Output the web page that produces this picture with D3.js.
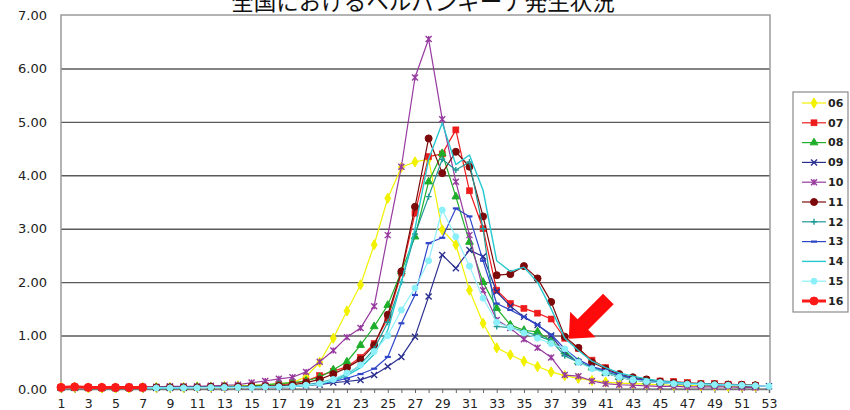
<!DOCTYPE html>
<html><head><meta charset="utf-8">
<script src="https://cdn.jsdelivr.net/npm/d3@7"></script>
<style>
html,body{margin:0;padding:0;background:#fff;overflow:hidden}
svg{display:block}
</style>
</head><body>
<svg id="chart" width="850" height="410"></svg>
<script>
const title = "全国におけるヘルパンギーナ発生状況";
const weeks = [1,2,3,4,5,6,7,8,9,10,11,12,13,14,15,16,17,18,19,20,21,22,23,24,25,26,27,28,29,30,31,32,33,34,35,36,37,38,39,40,41,42,43,44,45,46,47,48,49,50,51,52,53];
const xTickLabels = [1,3,5,7,9,11,13,15,17,19,21,23,25,27,29,31,33,35,37,39,41,43,45,47,49,51,53];
const yTicks = [0,1,2,3,4,5,6,7];
const seriesNames = ["06","07","08","09","10","11","12","13","14","15","16"];

const s06 = [0.03,0.03,0.02,0.02,0.02,0.02,0.03,0.03,0.03,0.03,0.04,0.04,0.05,0.06,0.07,0.08,0.10,0.12,
  0.23,0.50,0.95,1.46,1.95,2.70,3.57,4.15,4.25,4.30,
  2.98,2.70,1.85,1.23,0.77,0.64,0.52,0.42,0.32,0.25,0.20,0.16,
  0.13,0.11,0.10,0.09,0.08,0.07,0.07,0.06,0.06,0.05,0.05,0.05,null];
const s07 = [0.03,0.03,0.03,0.02,0.02,0.02,0.02,0.03,0.03,0.03,0.03,0.04,0.04,0.05,0.05,0.06,0.08,0.10,
  0.15,0.25,0.33,0.42,0.59,0.85,1.32,2.17,3.29,4.35,
  4.40,4.85,3.71,3.00,1.85,1.60,1.51,1.42,1.31,0.95,0.76,0.54,
  0.40,0.26,0.19,0.17,0.15,0.14,0.12,0.10,0.10,0.09,0.08,0.07,null];
const s08 = [0.02,0.02,0.02,0.02,0.02,0.02,0.03,0.03,0.03,0.03,0.04,0.04,0.05,0.05,0.06,0.08,0.10,0.12,
  0.15,0.22,0.36,0.51,0.82,1.17,1.57,2.20,2.85,3.88,
  4.41,3.60,2.75,2.00,1.51,1.20,1.10,1.07,0.90,0.70,0.51,0.40,
  0.30,0.22,0.17,0.14,0.12,0.10,0.09,0.08,0.08,0.07,0.06,0.06,null];
const s09 = [0.02,0.02,0.02,0.02,0.02,0.02,0.02,0.02,0.02,0.02,0.03,0.03,0.03,0.04,0.04,0.05,0.05,0.06,
  0.07,0.08,0.12,0.14,0.17,0.26,0.42,0.60,0.98,1.73,
  2.51,2.26,2.60,2.48,1.82,1.55,1.35,1.20,1.00,0.67,0.50,0.40,
  0.30,0.22,0.17,0.14,0.12,0.10,0.09,0.08,0.07,0.07,0.06,0.06,0.05];
const s10 = [0.03,0.03,0.03,0.03,0.03,0.04,0.04,0.04,0.05,0.05,0.05,0.06,0.07,0.08,0.12,0.15,0.19,0.22,
  0.32,0.51,0.72,0.97,1.14,1.55,2.88,4.16,5.83,6.55,
  5.05,3.88,2.88,1.85,1.29,1.14,0.93,0.77,0.59,0.26,0.24,0.15,
  0.10,0.08,0.07,0.06,0.05,0.05,0.04,0.04,0.04,0.04,0.03,0.03,null];
const s11 = [0.03,0.03,0.03,0.03,0.02,0.02,0.03,0.03,0.03,0.03,0.03,0.04,0.04,0.04,0.05,0.05,0.06,0.08,
  0.12,0.18,0.28,0.40,0.55,0.82,1.39,2.20,3.41,4.69,
  4.04,4.44,4.16,3.23,2.13,2.15,2.30,2.07,1.63,0.98,0.77,0.50,
  0.38,0.28,0.22,0.18,0.14,0.12,0.10,0.09,0.09,0.08,0.08,0.07,null];
const s12 = [0.02,0.02,0.02,0.02,0.02,0.02,0.02,0.03,0.03,0.03,0.03,0.03,0.04,0.04,0.04,0.05,0.05,0.06,
  0.08,0.12,0.18,0.28,0.45,0.75,1.25,2.00,2.90,3.60,
  4.30,4.10,4.25,3.00,1.17,1.15,1.08,1.00,0.90,0.62,0.50,0.40,
  0.32,0.25,0.20,0.16,0.13,0.11,0.10,0.09,0.08,0.07,0.07,0.06,null];
const s13 = [0.02,0.02,0.02,0.02,0.02,0.02,0.02,0.02,0.02,0.03,0.03,0.03,0.03,0.03,0.04,0.04,0.04,0.05,
  0.07,0.10,0.14,0.20,0.28,0.38,0.60,1.23,1.76,2.73,
  2.83,3.38,3.23,2.40,1.60,1.48,1.35,1.20,1.02,0.75,0.55,0.42,
  0.35,0.27,0.20,0.16,0.13,0.11,0.10,0.09,0.08,0.07,0.07,0.06,null];
const s14 = [0.02,0.02,0.02,0.02,0.02,0.02,0.02,0.02,0.02,0.03,0.03,0.03,0.03,0.03,0.03,0.04,0.04,0.05,
  0.06,0.10,0.15,0.25,0.40,0.65,1.10,2.00,3.00,4.30,
  4.98,4.20,4.38,3.72,2.40,2.20,2.28,2.00,1.50,0.95,0.72,0.52,
  0.40,0.30,0.24,0.19,0.15,0.13,0.11,0.10,0.09,0.08,0.07,0.07,null];
const s15 = [0.02,0.02,0.02,0.02,0.02,0.02,0.02,0.02,0.02,0.02,0.02,0.03,0.03,0.03,0.03,0.04,0.04,0.05,
  0.07,0.10,0.18,0.30,0.45,0.70,1.00,1.48,1.89,2.40,
  3.35,2.85,2.30,1.70,1.25,1.15,1.05,0.95,0.85,0.75,0.50,0.38,
  0.30,0.22,0.17,0.14,0.12,0.10,0.09,0.08,0.08,0.07,0.07,0.06,0.05];
const s16 = [0.03,0.04,0.03,0.03,0.03,0.03,0.03];

const seriesValues = [s06,s07,s08,s09,s10,s11,s12,s13,s14,s15,s16];

// styles
const colors = ["#f2f200","#ee1c1c","#1fae2a","#2b2f8f","#963a9e","#7d0a0a","#1f9a96","#3046c8","#28c8d0","#8cf0fa","#ff1a1a"];
const markers = ["diamond","square","triangle","x","star","circle","plus","dash","none","circle","circle"];
const widths = [1.2,1.2,1.2,1.2,1.2,1.2,1.2,1.2,1.4,1.2,3];

const svg = d3.select("#chart");
const W = 850, H = 410;
const plot = {left:61, right:770, top:15, bottom:389};

const x = d3.scaleLinear().domain([1,53]).range([plot.left, 769]);
const y = d3.scaleLinear().domain([0,7]).range([plot.bottom, plot.top]);

// title (partially clipped at top)
svg.append("text")
  .attr("x", 423).attr("y", 10)
  .attr("text-anchor","middle")
  .attr("font-family","'Noto Sans CJK JP', sans-serif")
  .attr("font-size", 22.5)
  .attr("fill","#111")
  .text(title);

// gridlines
const grid = svg.append("g").attr("transform",`translate(${plot.left},0)`)
  .call(d3.axisLeft(y).tickValues(yTicks.filter(v=>v>0 && v<7)).tickSize(-(plot.right-plot.left)).tickFormat(""));
grid.select(".domain").remove();
grid.selectAll("line").attr("stroke","#5a5a5a").attr("stroke-width",1.4);

// frame
svg.append("rect")
  .attr("x",plot.left).attr("y",plot.top)
  .attr("width",plot.right-plot.left).attr("height",plot.bottom-plot.top)
  .attr("fill","none").attr("stroke","#9a9a9a").attr("stroke-width",1.5);

// y axis labels
const ya = svg.append("g").attr("transform",`translate(${plot.left},0)`)
  .call(d3.axisLeft(y).tickValues(yTicks).tickSize(0).tickPadding(14).tickFormat(d3.format(".2f")));
ya.select(".domain").remove();
ya.selectAll("text").attr("font-family","'DejaVu Sans', sans-serif").attr("font-size",13).attr("fill","#222");

// x axis
const xa = svg.append("g").attr("transform",`translate(0,${plot.bottom})`)
  .call(d3.axisBottom(x).tickValues(weeks).tickSize(4).tickPadding(6)
    .tickFormat(d => xTickLabels.includes(d) ? String(d) : ""));
xa.select(".domain").attr("stroke","#777").attr("stroke-width",1.5);
xa.selectAll("line").attr("stroke","#666");
xa.selectAll("text").attr("font-family","'DejaVu Sans', sans-serif").attr("font-size",12.5).attr("fill","#222");

// marker drawing
function drawMarker(g, type, color, size) {
  const s = size;
  switch(type) {
    case "diamond":
      g.append("path").attr("d", d3.symbol(d3.symbolDiamond, 30)()).attr("fill",color).attr("stroke",color); break;
    case "square":
      g.append("rect").attr("x",-s/2).attr("y",-s/2).attr("width",s).attr("height",s).attr("fill",color).attr("stroke",color).attr("stroke-width",0.6); break;
    case "triangle":
      g.append("path").attr("d", d3.symbol(d3.symbolTriangle, 26)()).attr("fill",color).attr("stroke",color); break;
    case "x":
      g.append("path").attr("d",`M${-s/2},${-s/2}L${s/2},${s/2}M${-s/2},${s/2}L${s/2},${-s/2}`).attr("stroke",color).attr("stroke-width",1.4).attr("fill","none"); break;
    case "star":
      g.append("path").attr("d",`M${-s/2},${-s/2}L${s/2},${s/2}M${-s/2},${s/2}L${s/2},${-s/2}M0,${-s/2}L0,${s/2}`).attr("stroke",color).attr("stroke-width",1.4).attr("fill","none"); break;
    case "circle":
      g.append("circle").attr("r",s/2).attr("fill",color).attr("stroke",color); break;
    case "plus":
      g.append("path").attr("d",`M${-s/2},0L${s/2},0M0,${-s/2}L0,${s/2}`).attr("stroke",color).attr("stroke-width",1.4).attr("fill","none"); break;
    case "dash":
      g.append("path").attr("d",`M${-s/2},0L${s/2},0`).attr("stroke",color).attr("stroke-width",2.2).attr("fill","none"); break;
    default: break;
  }
}
const markerSize = [6,6,6,6,6,7,6,6,0,6,8];

// series
const line = d3.line().defined(d => d.v != null).x(d => x(d.w)).y(d => y(d.v));
seriesValues.forEach((vals, i) => {
  const pts = vals.map((v, k) => ({w: weeks[k], v}));
  const g = svg.append("g").attr("class","series s"+seriesNames[i]);
  g.append("path").datum(pts).attr("d", line)
    .attr("fill","none").attr("stroke",colors[i]).attr("stroke-width",widths[i]).attr("stroke-linejoin","round");
  pts.filter(p => p.v != null).forEach(p => {
    const mg = g.append("g").attr("transform",`translate(${x(p.w)},${y(p.v)})`);
    drawMarker(mg, markers[i], colors[i], markerSize[i]);
  });
});

// legend
const leg = svg.append("g");
leg.append("rect").attr("x",793).attr("y",92).attr("width",55).attr("height",220)
  .attr("fill","#fff").attr("stroke","#8a8a8a").attr("stroke-width",1.2);
seriesNames.forEach((n, i) => {
  const ly = 103 + i*19.8;
  leg.append("line").attr("x1",802).attr("x2",826).attr("y1",ly).attr("y2",ly)
    .attr("stroke",colors[i]).attr("stroke-width",widths[i]);
  const mg = leg.append("g").attr("transform",`translate(814,${ly})`);
  drawMarker(mg, markers[i], colors[i], markerSize[i]);
  leg.append("text").attr("x",828).attr("y",ly).attr("dy","0.35em")
    .attr("font-family","'DejaVu Sans', sans-serif").attr("font-size",11).attr("font-weight","bold")
    .attr("fill","#222").text(n);
});

// red arrow annotation pointing at week 38
const tipW = 38, tipV = 0.98;
const tx = x(tipW) + 4, ty = y(tipV) + 2;
svg.append("path")
  .attr("transform",`translate(${tx},${ty}) rotate(-45)`)
  .attr("d","M0,0 L20,-18 L20,-7.5 L56,-7.5 L56,7.5 L20,7.5 L20,18 Z")
  .attr("fill","#ff0a0a");
</script>
</body></html>
